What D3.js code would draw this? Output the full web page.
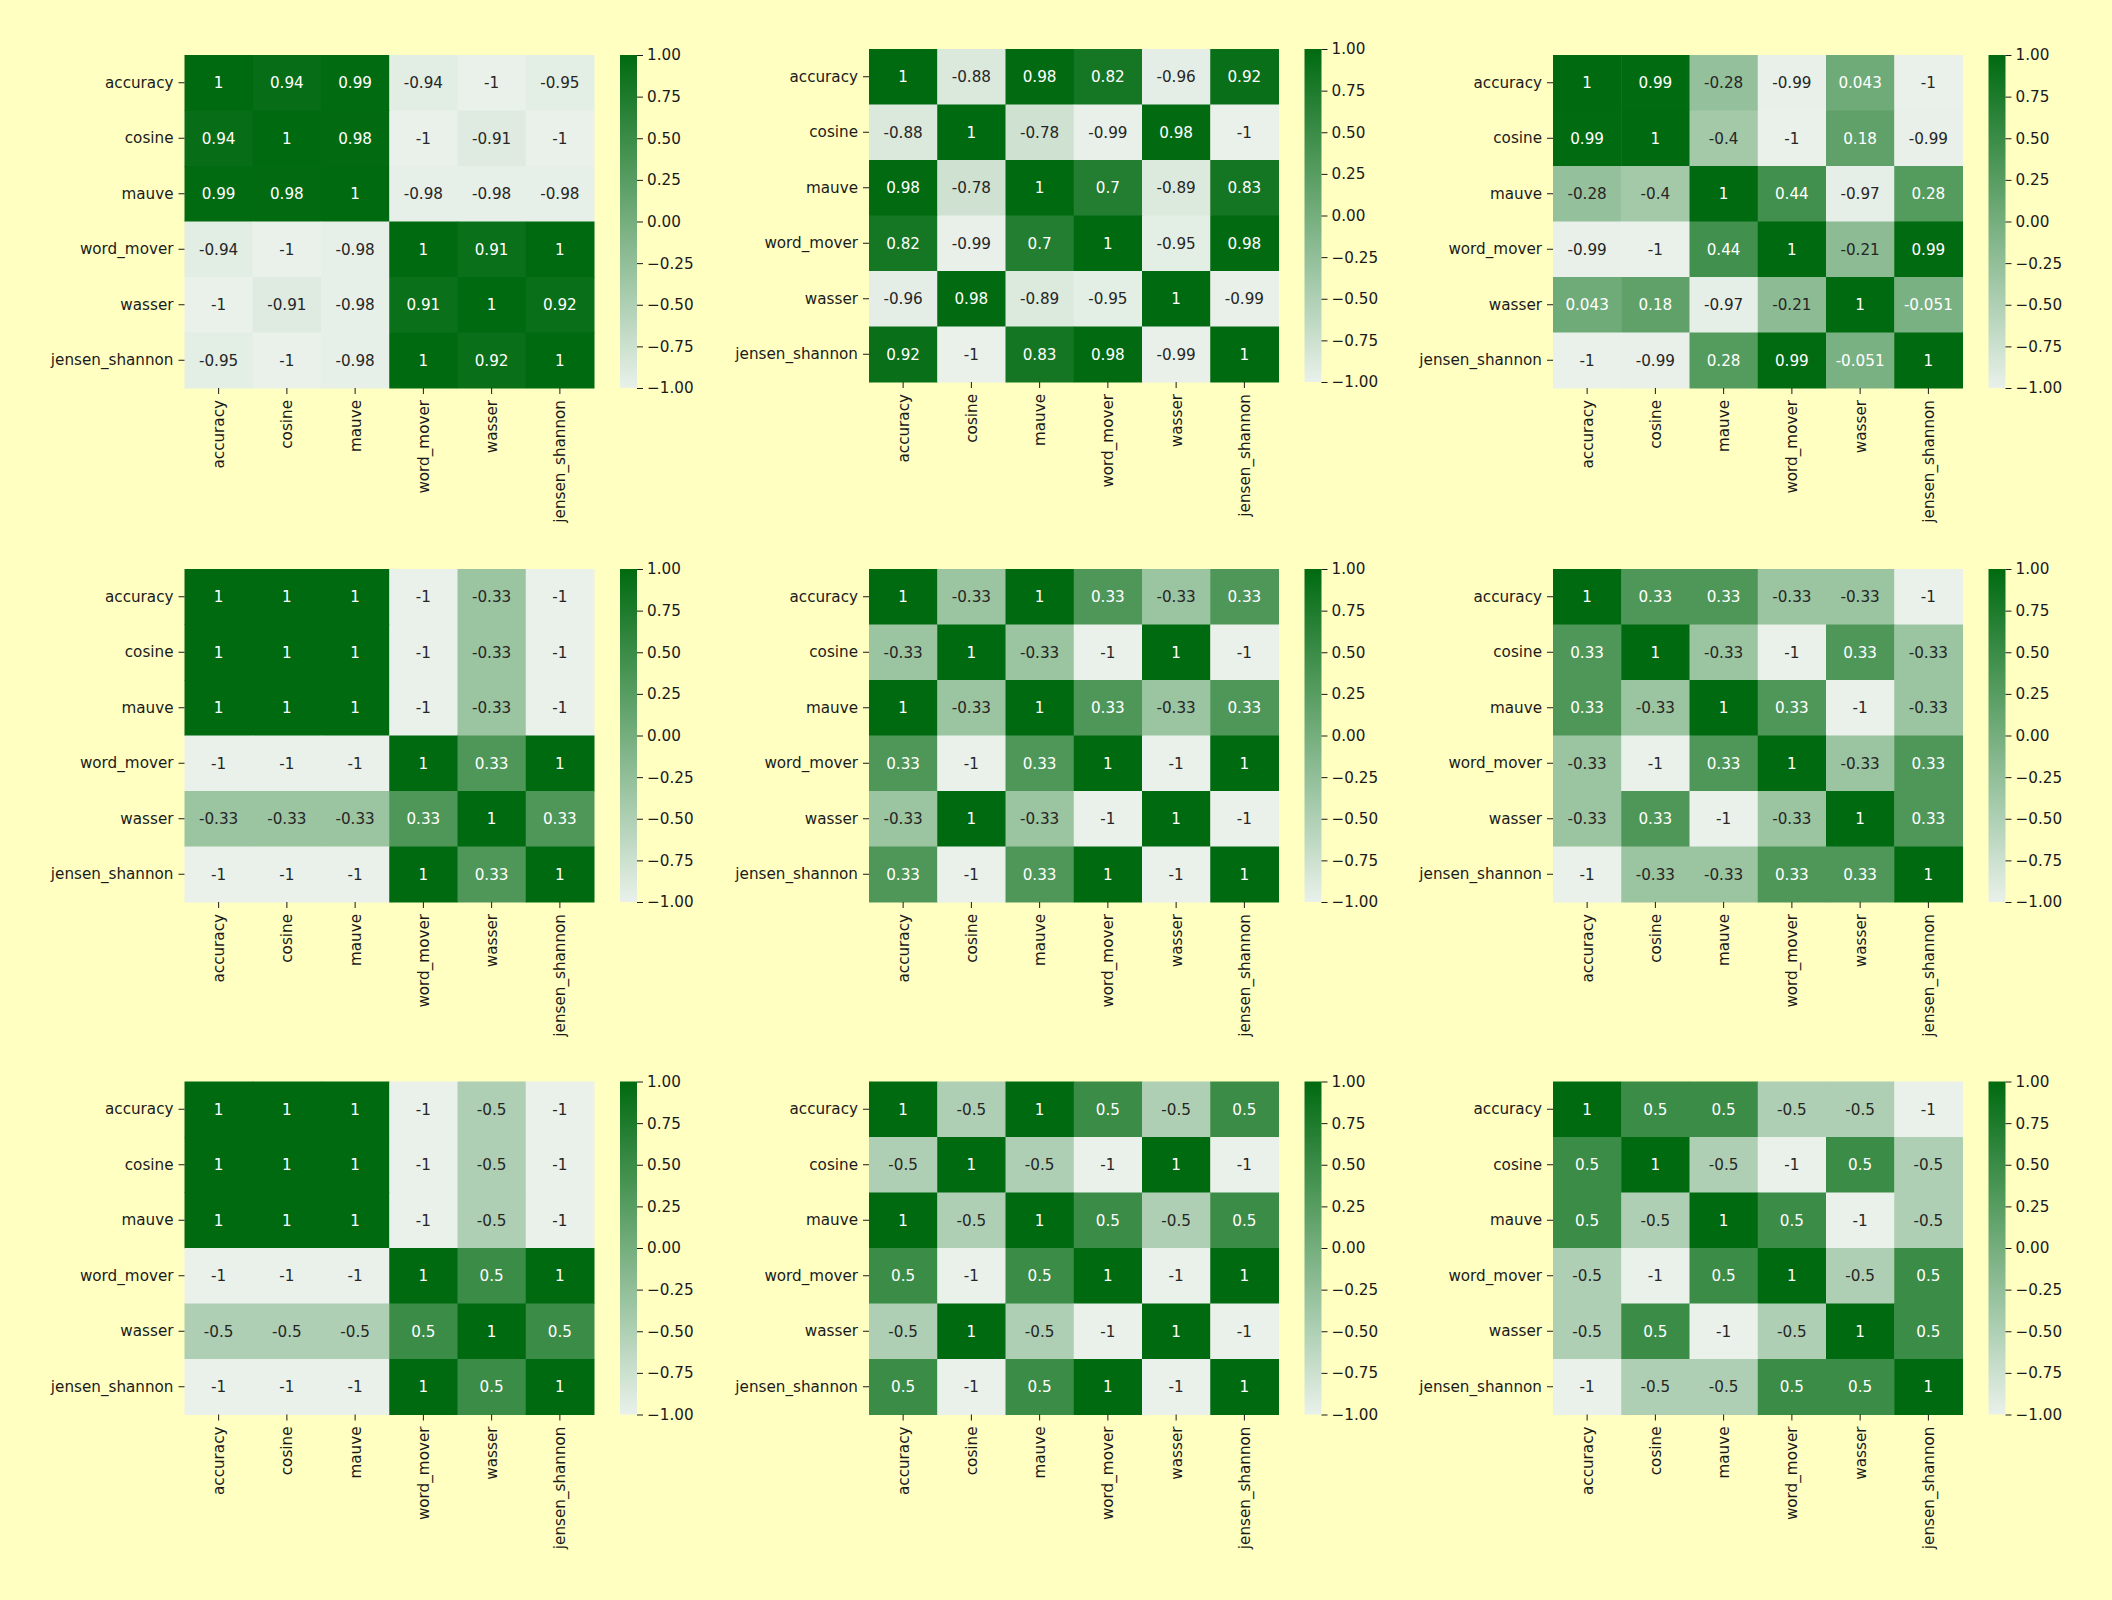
<!DOCTYPE html>
<meta charset="utf-8">
<style>
  body { margin: 0; background: #ffffc2; }
  svg { display: block; font-family: "DejaVu Sans", sans-serif; }
  .tick text { font-size: 15.2px; fill: #1a1a1a; }
  .tick line { stroke: #1a1a1a; stroke-width: 1; }
  .annot { font-size: 15.2px; }
</style>
<svg width="2112" height="1600"></svg>
<script src="https://d3js.org/d3.v7.min.js"></script>
<script>
  // metric names, same order on both axes
  var metrics = ["accuracy", "cosine", "mauve", "word_mover", "wasser", "jensen_shannon"];

  // correlation matrices, read row by row (top-left panel first)
  var corrA = [
    [1, 0.94, 0.99, -0.94, -1, -0.95],
    [0.94, 1, 0.98, -1, -0.91, -1],
    [0.99, 0.98, 1, -0.98, -0.98, -0.98],
    [-0.94, -1, -0.98, 1, 0.91, 1],
    [-1, -0.91, -0.98, 0.91, 1, 0.92],
    [-0.95, -1, -0.98, 1, 0.92, 1]
  ];
  var corrB = [
    [1, -0.88, 0.98, 0.82, -0.96, 0.92],
    [-0.88, 1, -0.78, -0.99, 0.98, -1],
    [0.98, -0.78, 1, 0.7, -0.89, 0.83],
    [0.82, -0.99, 0.7, 1, -0.95, 0.98],
    [-0.96, 0.98, -0.89, -0.95, 1, -0.99],
    [0.92, -1, 0.83, 0.98, -0.99, 1]
  ];
  var corrC = [
    [1, 0.99, -0.28, -0.99, 0.043, -1],
    [0.99, 1, -0.4, -1, 0.18, -0.99],
    [-0.28, -0.4, 1, 0.44, -0.97, 0.28],
    [-0.99, -1, 0.44, 1, -0.21, 0.99],
    [0.043, 0.18, -0.97, -0.21, 1, -0.051],
    [-1, -0.99, 0.28, 0.99, -0.051, 1]
  ];
  var corrD = [
    [1, 1, 1, -1, -0.33, -1],
    [1, 1, 1, -1, -0.33, -1],
    [1, 1, 1, -1, -0.33, -1],
    [-1, -1, -1, 1, 0.33, 1],
    [-0.33, -0.33, -0.33, 0.33, 1, 0.33],
    [-1, -1, -1, 1, 0.33, 1]
  ];
  var corrE = [
    [1, -0.33, 1, 0.33, -0.33, 0.33],
    [-0.33, 1, -0.33, -1, 1, -1],
    [1, -0.33, 1, 0.33, -0.33, 0.33],
    [0.33, -1, 0.33, 1, -1, 1],
    [-0.33, 1, -0.33, -1, 1, -1],
    [0.33, -1, 0.33, 1, -1, 1]
  ];
  var corrF = [
    [1, 0.33, 0.33, -0.33, -0.33, -1],
    [0.33, 1, -0.33, -1, 0.33, -0.33],
    [0.33, -0.33, 1, 0.33, -1, -0.33],
    [-0.33, -1, 0.33, 1, -0.33, 0.33],
    [-0.33, 0.33, -1, -0.33, 1, 0.33],
    [-1, -0.33, -0.33, 0.33, 0.33, 1]
  ];
  var corrG = [
    [1, 1, 1, -1, -0.5, -1],
    [1, 1, 1, -1, -0.5, -1],
    [1, 1, 1, -1, -0.5, -1],
    [-1, -1, -1, 1, 0.5, 1],
    [-0.5, -0.5, -0.5, 0.5, 1, 0.5],
    [-1, -1, -1, 1, 0.5, 1]
  ];
  var corrH = [
    [1, -0.5, 1, 0.5, -0.5, 0.5],
    [-0.5, 1, -0.5, -1, 1, -1],
    [1, -0.5, 1, 0.5, -0.5, 0.5],
    [0.5, -1, 0.5, 1, -1, 1],
    [-0.5, 1, -0.5, -1, 1, -1],
    [0.5, -1, 0.5, 1, -1, 1]
  ];
  var corrI = [
    [1, 0.5, 0.5, -0.5, -0.5, -1],
    [0.5, 1, -0.5, -1, 0.5, -0.5],
    [0.5, -0.5, 1, 0.5, -1, -0.5],
    [-0.5, -1, 0.5, 1, -0.5, 0.5],
    [-0.5, 0.5, -1, -0.5, 1, 0.5],
    [-1, -0.5, -0.5, 0.5, 0.5, 1]
  ];
  var colorbarTicks = [-1, -0.75, -0.5, -0.25, 0, 0.25, 0.5, 0.75, 1];

  var matrices = [corrA, corrB, corrC, corrD, corrE, corrF, corrG, corrH, corrI];

  // layout (pixels)
  var colLeft = [184.5, 869, 1553];
  var rowTop = [[55, 49, 55], [569, 569, 569], [1081.5, 1081.5, 1081.5]];
  var hmW = 409.5, hmH = 333;
  var cbOffset = 435.5, cbW = 17;

  var svg = d3.select("svg");
  var color = d3.scaleLinear().domain([-1, 1])
    .range(["#e9f1ea", "#006a10"]).interpolate(d3.interpolateRgb);

  // seaborn style: dark text on light cells, white on dark cells
  function textColor(v) {
    var c = d3.rgb(color(v));
    function lin(u) { u = u / 255; return u <= 0.03928 ? u / 12.92 : Math.pow((u + 0.055) / 1.055, 2.4); }
    var lum = 0.2126 * lin(c.r) + 0.7152 * lin(c.g) + 0.0722 * lin(c.b);
    return lum > 0.408 ? "#262626" : "#ffffff";
  }

  // shared gradient for all colorbars
  var grad = svg.append("defs").append("linearGradient")
    .attr("id", "cbgrad").attr("x1", 0).attr("y1", 1).attr("x2", 0).attr("y2", 0);
  d3.range(0, 1.0001, 0.1).forEach(function(t) {
    grad.append("stop").attr("offset", t).attr("stop-color", color(-1 + 2 * t));
  });

  matrices.forEach(function(mat, k) {
    var r = Math.floor(k / 3), c = k % 3;
    var g = svg.append("g")
      .attr("transform", "translate(" + colLeft[c] + "," + rowTop[r][c] + ")");

    var x = d3.scaleBand().domain(metrics).range([0, hmW]);
    var y = d3.scaleBand().domain(metrics).range([0, hmH]);

    var cells = [];
    mat.forEach(function(row, i) {
      row.forEach(function(v, j) {
        cells.push({ row: metrics[i], col: metrics[j], v: v });
      });
    });

    g.append("g").selectAll("rect")
      .data(cells)
      .enter().append("rect")
      .attr("x", function(d) { return x(d.col); })
      .attr("y", function(d) { return y(d.row); })
      .attr("width", x.bandwidth() + 0.5)
      .attr("height", y.bandwidth() + 0.5)
      .attr("fill", function(d) { return color(d.v); });

    g.append("g").selectAll("text")
      .data(cells)
      .enter().append("text")
      .attr("class", "annot")
      .attr("x", function(d) { return x(d.col) + x.bandwidth() / 2; })
      .attr("y", function(d) { return y(d.row) + y.bandwidth() / 2; })
      .attr("dy", "0.36em")
      .attr("text-anchor", "middle")
      .attr("fill", function(d) { return textColor(d.v); })
      .text(function(d) { return String(d.v); });

    var yAxis = g.append("g")
      .call(d3.axisLeft(y).tickSize(6).tickPadding(5))
      .attr("font-family", null).attr("font-size", null);
    yAxis.select(".domain").remove();

    var xAxis = g.append("g")
      .attr("transform", "translate(0," + hmH + ")")
      .call(d3.axisBottom(x).tickSize(6).tickPadding(5))
      .attr("font-family", null).attr("font-size", null);
    xAxis.select(".domain").remove();
    xAxis.selectAll("text")
      .attr("y", 0).attr("x", -12).attr("dy", "0.36em")
      .attr("transform", "rotate(-90)")
      .style("text-anchor", "end");

    // colorbar
    var cb = g.append("g").attr("transform", "translate(" + cbOffset + ",0)");
    cb.append("rect")
      .attr("width", cbW).attr("height", hmH)
      .attr("fill", "url(#cbgrad)");
    var cbScale = d3.scaleLinear().domain([-1, 1]).range([hmH, 0]);
    var cbAxis = cb.append("g")
      .attr("transform", "translate(" + cbW + ",0)")
      .call(d3.axisRight(cbScale).tickValues(colorbarTicks)
        .tickFormat(d3.format(".2f")).tickSize(6).tickPadding(4))
      .attr("font-family", null).attr("font-size", null);
    cbAxis.select(".domain").remove();
  });
</script>
